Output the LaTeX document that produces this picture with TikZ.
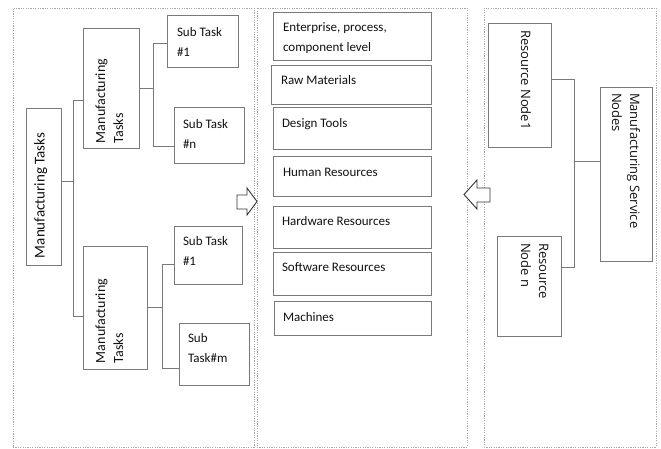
\documentclass[tikz,border=0pt]{standalone}
\usepackage{fontspec}
\usepackage{graphicx}
\setmainfont{Carlito}
\newfontfamily\nodesfont{Open Sans}
\definecolor{boxgray}{HTML}{7A7A7A}
\definecolor{panelgray}{HTML}{A8A8A8}
\definecolor{inkgray}{HTML}{111111}
% text block of fixed size: width, height, top pad, left pad, text
\newcommand{\boxtext}[5]{\parbox[c][#2][t]{#1}{\raggedright\leftskip=#4\relax\vspace*{#3}\strut#5}}
\tikzset{
  box/.style={draw=boxgray, line width=0.9pt, inner sep=0pt, outer sep=0pt,
    anchor=north west, text=inkgray, font=\fontsize{13}{20}\selectfont},
  sidebox/.style={box, font=\fontsize{14}{18}\selectfont},
  resbox/.style={box, font=\nodesfont\fontsize{13}{18}\selectfont},
  panel/.style={draw=panelgray, dash pattern=on 1.2pt off 1.2pt, line width=0.8pt,
    inner sep=0pt, outer sep=0pt, anchor=north west},
  link/.style={draw=boxgray, line width=0.9pt},
  blockarrow/.style={draw=black!80, fill=white, line width=0.9pt, line join=miter}
}
\begin{document}
\begin{tikzpicture}[x=1pt,y=-1pt]
\useasboundingbox (0,0) rectangle (661,448);
% three columns
\node[panel, minimum width=241pt, minimum height=439pt] (tasks) at (13,8) {};
\node[panel, minimum width=210pt, minimum height=439pt] (levels) at (257,8) {};
\node[panel, minimum width=172pt, minimum height=439pt] (services) at (484,8) {};

% task tree
\node[sidebox, font=\fontsize{15}{18}\selectfont] (mt) at (26,108) {\rotatebox{90}{\boxtext{157pt}{35pt}{6pt}{7pt}{Manufacturing Tasks}}};
\node[sidebox] (mta) at (83,28) {\rotatebox{90}{\boxtext{120pt}{56pt}{9.4pt}{5pt}{Manufacturing\\Tasks}}};
\node[sidebox] (mtb) at (83,246) {\rotatebox{90}{\boxtext{123pt}{64pt}{9.4pt}{6pt}{Manufacturing\\Tasks}}};
\node[box] (sta) at (167,15) {\boxtext{71pt}{52pt}{7pt}{10pt}{Sub Task\\\#1}};
\node[box] (stn) at (174,107) {\boxtext{70pt}{56pt}{7pt}{9pt}{Sub Task\\\#n}};
\node[box] (stc) at (174,226) {\boxtext{68pt}{58pt}{5.7pt}{9pt}{Sub Task\\\#1}};
\node[box] (stm) at (179,323) {\boxtext{70pt}{62pt}{5.7pt}{9pt}{Sub\\Task\#m}};

\draw[link] ([yshift=5.5pt]mt.east) -- ++(12,0);
\draw[link] ([yshift=-12pt]mta.west) -- ++(-10,0) |- ([yshift=-8.5pt]mtb.west);
\draw[link] (mta.east) -- ++(14,0);
\draw[link] ([yshift=-2pt]sta.west) -- ++(-14,0) |- ([yshift=-11pt]stn.west);
\draw[link] (mtb.east) -- ++(15,0);
\draw[link] ([yshift=-9pt]stc.west) -- ++(-12,0) |- ([yshift=-14pt]stm.west);

% resource list
\node[box] (enterprise) at (273,12) {\boxtext{158pt}{48pt}{5.7pt}{10pt}{Enterprise, process,\\component level}};
\node[box] (raw) at (271,65) {\boxtext{160pt}{39pt}{5pt}{10pt}{Raw Materials}};
\node[box] (design) at (273,107) {\boxtext{158pt}{42pt}{6.7pt}{9pt}{Design Tools}};
\node[box] (human) at (273,156) {\boxtext{158pt}{40pt}{6pt}{10pt}{Human Resources}};
\node[box] (hardware) at (273,206) {\boxtext{158pt}{42pt}{5.7pt}{9pt}{Hardware Resources}};
\node[box] (software) at (273,252) {\boxtext{158pt}{43pt}{5.7pt}{9pt}{Software Resources}};
\node[box] (machines) at (274,301) {\boxtext{157pt}{34pt}{6pt}{9pt}{Machines}};

% service nodes
\node[resbox] (rn1) at (488,23) {\rotatebox{-90}{\boxtext{124pt}{63pt}{17.4pt}{7pt}{Resource Node1}}};
\node[resbox] (rnn) at (497,236) {\rotatebox{-90}{\boxtext{100pt}{64pt}{9.4pt}{7pt}{Resource\\Node n}}};
\node[resbox] (msn) at (600,87) {\rotatebox{-90}{\boxtext{174pt}{52pt}{9.4pt}{6pt}{Manufacturing Service\\Nodes}}};

\draw[link] ([yshift=6pt]rn1.east) -- ++(23,0) |- ([yshift=19pt]rnn.east);
\draw[link] ([yshift=13pt]msn.west) -- ++(-26,0);

% hollow block arrows
\draw[blockarrow] (237,195) -- (247,195) -- (247,188) -- (257,201.5) -- (247,215)
  -- (247,209) -- (237,209) -- cycle;
\draw[blockarrow] (490,188) -- (477,188) -- (477,180) -- (464,194.5) -- (477,209)
  -- (477,202) -- (490,202) -- cycle;
\end{tikzpicture}
\end{document}
